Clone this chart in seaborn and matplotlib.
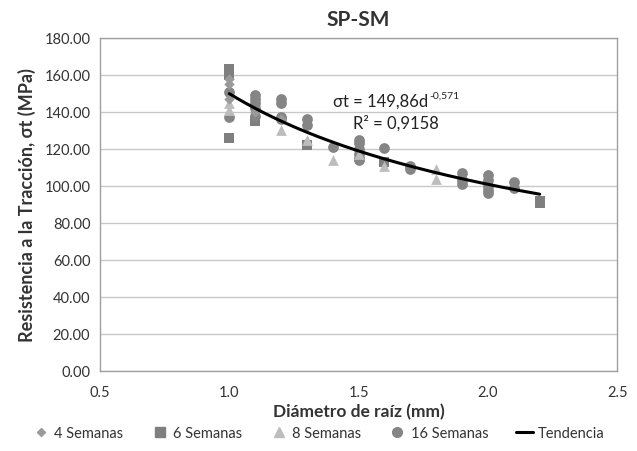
import numpy as np
import pandas as pd
import matplotlib
matplotlib.use("Agg")
import matplotlib.pyplot as plt
import seaborn as sns
from matplotlib.lines import Line2D

# ---- data ----
d4_x = [1.0, 1.0, 1.0, 1.1, 1.2]
d4_y = [155, 158, 147, 140, 136]

d6_x = [1.0, 1.0, 1.0, 1.1, 1.3, 1.6, 2.2, 2.2]
d6_y = [163, 160, 126, 135, 122, 113, 92, 91]

d8_x = [1.0, 1.0, 1.2, 1.3, 1.4, 1.5, 1.6, 1.8, 1.8]
d8_y = [145, 141, 130, 125, 114, 117, 111, 109, 104]

d16_x = [1.0, 1.0, 1.1, 1.1, 1.1, 1.1, 1.1, 1.2, 1.2, 1.2, 1.2, 1.3, 1.3, 1.4,
         1.5, 1.5, 1.5, 1.5, 1.5, 1.5, 1.6, 1.7, 1.7, 1.9, 1.9, 1.9,
         2.0, 2.0, 2.0, 2.0, 2.0, 2.1, 2.1]
d16_y = [137, 151, 149, 147, 145, 142, 138, 147, 145, 137, 136, 136, 133, 121,
         125, 123, 120, 117, 115, 114, 120.5, 111, 109, 107, 103, 101,
         106, 103, 100, 98, 96, 102, 99]

series_names = ["4 Semanas", "6 Semanas", "8 Semanas", "16 Semanas"]
trend_a = 149.86
trend_b = -0.571
trend_x_range = (1.0, 2.2)

x_ticks = [0.5, 1.0, 1.5, 2.0, 2.5]
y_ticks = [0, 20, 40, 60, 80, 100, 120, 140, 160, 180]

# ---- build frames ----
frames = []
for name, xs, ys in zip(series_names, [d4_x, d6_x, d8_x, d16_x], [d4_y, d6_y, d8_y, d16_y]):
    frames.append(pd.DataFrame({"d": xs, "s": ys, "serie": name}))
df = pd.concat(frames, ignore_index=True)

tx = np.linspace(trend_x_range[0], trend_x_range[1], 200)
trend = pd.DataFrame({"d": tx, "s": trend_a * tx ** trend_b})

sns.set_theme(style="white")
plt.rcParams["font.family"] = ["Lato", "DejaVu Sans"]

fig = plt.figure(figsize=(6.37, 4.52), dpi=100)
ax = fig.add_axes([0.157, 0.177, 0.812, 0.737])

palette = {"4 Semanas": "#9a9a9a", "6 Semanas": "#7f7f7f",
           "8 Semanas": "#bdbdbd", "16 Semanas": "#858585"}
markers = {"4 Semanas": "D", "6 Semanas": "s", "8 Semanas": "^", "16 Semanas": "o"}
sizes = {"4 Semanas": 28, "6 Semanas": 55, "8 Semanas": 60, "16 Semanas": 60}

for name in ["6 Semanas", "16 Semanas", "8 Semanas", "4 Semanas"]:
    sub = df[df["serie"] == name]
    sns.scatterplot(data=sub, x="d", y="s", ax=ax, color=palette[name],
                    marker=markers[name], s=sizes[name], linewidth=0,
                    legend=False, zorder=3)

sns.lineplot(data=trend, x="d", y="s", ax=ax, color="black", linewidth=2.2,
             legend=False, zorder=4)

ax.set_xlim(0.5, 2.5)
ax.set_ylim(0, 180)
ax.set_xticks(x_ticks)
ax.set_xticklabels([f"{t:.1f}" for t in x_ticks])
ax.set_yticks(y_ticks)
ax.set_yticklabels([f"{t:.2f}" for t in y_ticks])
ax.yaxis.grid(True, color="#c8c8c8", linewidth=1)
ax.xaxis.grid(False)
ax.set_axisbelow(True)
for sp in ax.spines.values():
    sp.set_visible(True)
    sp.set_color("#a0a0a0")
    sp.set_linewidth(1)
ax.tick_params(axis="both", which="both", direction="out", length=4, width=1,
               color="#a0a0a0", labelsize=10.5, labelcolor="#333333", pad=3)
ax.tick_params(axis="x", pad=6)

ax.set_xlabel("Diámetro de raíz (mm)", fontsize=12.5, fontweight="bold",
              color="#333333", labelpad=3)
ax.set_ylabel("Resistencia a la Tracción, σt (MPa)", fontsize=13,
              fontweight="bold", color="#333333", labelpad=6)
ax.set_title("SP-SM", fontsize=15, fontweight="bold", color="#333333", pad=9)

eq = ax.text(1.40, 143.5, "σt = 149,86d", fontsize=12, color="#222222")
ax.annotate("-0,571", xy=(1.0, 0.55), xycoords=eq, xytext=(1, 0),
            textcoords="offset points", fontsize=7.5, color="#222222",
            va="bottom", ha="left")
ax.text(1.48, 131.5, "R² = 0,9158", fontsize=12, color="#222222")

handles = [
    Line2D([], [], marker="D", color="#9a9a9a", linestyle="none", markersize=4),
    Line2D([], [], marker="s", color="#7f7f7f", linestyle="none", markersize=7),
    Line2D([], [], marker="^", color="#bdbdbd", linestyle="none", markersize=7),
    Line2D([], [], marker="o", color="#858585", linestyle="none", markersize=7),
    Line2D([], [], color="black", linewidth=2.2),
]
labels = series_names + ["Tendencia"]
fig.legend(handles, labels, loc="lower center", bbox_to_anchor=(0.5, -0.005),
           ncol=5, frameon=False, fontsize=10.5, handlelength=1.2,
           handletextpad=0.3, columnspacing=1.9, labelcolor="#333333")

fig.savefig("out.png", dpi=100)
